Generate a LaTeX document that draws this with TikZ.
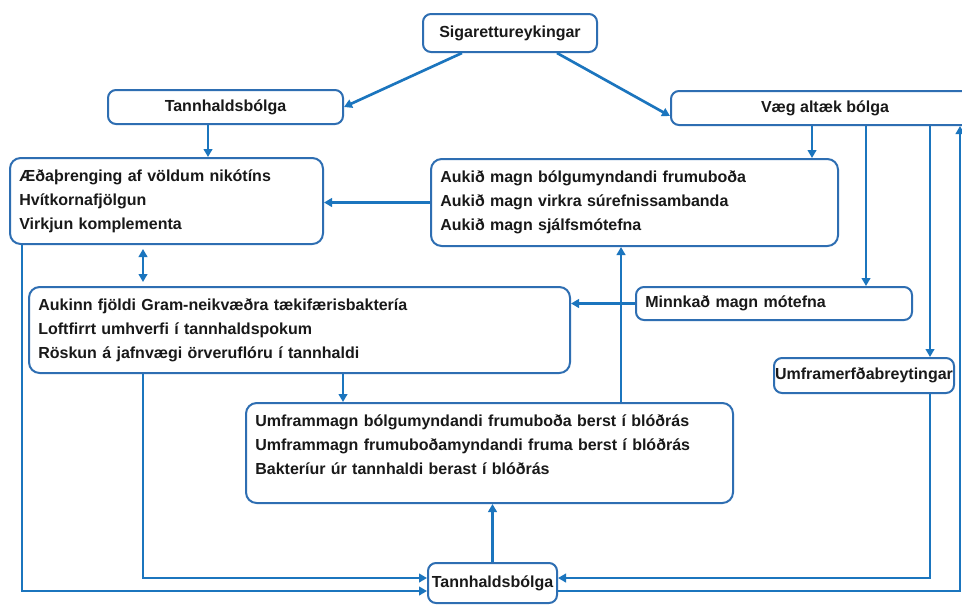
\documentclass[tikz,border=0pt]{standalone}
\usepackage{fontspec}
\setmainfont{Liberation Sans}
\usetikzlibrary{arrows.meta}
\definecolor{boxblue}{RGB}{46,110,178}
\definecolor{linkblue}{RGB}{27,117,190}
\definecolor{inktext}{RGB}{25,25,25}

\begin{document}
\begin{tikzpicture}[x=0.75pt, y=-0.75pt,
  >={Triangle[length=6pt,width=6.5pt]},
  box/.style={draw=boxblue, line width=1.5pt, rounded corners=6pt, fill=white,
    text=inktext, font=\bfseries\fontsize{12}{18}\selectfont, inner sep=0pt},
  listbox/.style={box, align=left, inner xsep=7pt, rounded corners=8pt},
  link/.style={draw=linkblue, line width=2pt, ->}]
\useasboundingbox[fill=white] (0,0) rectangle (962,604);

\node[box, minimum width=130.5pt, minimum height=28.5pt] (sig) at (510,33) {Sigarettureykingar};
\node[box, minimum width=176.25pt, minimum height=25.5pt] (tannTop) at (225.5,107) {Tannhaldsbólga};
\node[box, minimum width=231pt, minimum height=25.5pt] (vaeg) at (825,108) {Væg altæk bólga};
\node[listbox, text width=220.75pt, minimum height=64.5pt] (aeda) at (166.5,201)
  {Æðaþrenging af völdum nikótíns\\Hvítkornafjölgun\\Virkjun komplementa};
\node[listbox, text width=291.25pt, minimum height=65.25pt] (aukid) at (634.5,202.5)
  {Aukið magn bólgumyndandi frumuboða\\Aukið magn virkra súrefnissambanda\\Aukið magn sjálfsmótefna};
\node[listbox, text width=391.75pt, minimum height=64.5pt] (aukinn) at (299.5,330)
  {Aukinn fjöldi Gram-neikvæðra tækifærisbaktería\\Loftfirrt umhverfi í tannhaldspokum\\Röskun á jafnvægi örveruflóru í tannhaldi};
\node[listbox, text width=193pt, minimum height=24.75pt, rounded corners=6pt] (minnk) at (774,303.5) {Minnkað magn mótefna};
\node[box, minimum width=135pt, minimum height=26.25pt] (umfr) at (864,375.5) {Umframerfðabreytingar};
\node[listbox, text width=351.25pt, minimum height=75pt, text depth=48pt] (umfm) at (489.5,453)
  {Umframmagn bólgumyndandi frumuboða berst í blóðrás\\Umframmagn frumuboðamyndandi fruma berst í blóðrás\\Bakteríur úr tannhaldi berast í blóðrás};
\node[box, minimum width=96.75pt, minimum height=30pt] (tannBot) at (492.5,583) {Tannhaldsbólga};

% arrows
\draw[link] (sig.south -| 462,0) -- (tannTop.east);
\draw[link] (sig.south -| 557,0) -- ([yshift=-6pt]vaeg.west);
\draw[link] (tannTop.south -| 208,0) -- (aeda.north -| 208,0);
\draw[link] (aukid.west) -- (aukid.west -| aeda.east);
\draw[link, <->, shorten <=3pt, shorten >=3pt] (aeda.south -| 143,0) -- (aukinn.north -| 143,0);
\draw[link] (vaeg.south -| 812,0) -- (aukid.north -| 812,0);
\draw[link] (vaeg.south -| 866,0) -- (minnk.north -| 866,0);
\draw[link] (vaeg.south -| 930,0) -- (umfr.north -| 930,0);
\draw[link] (minnk.west) -- (minnk.west -| aukinn.east);
\draw[link] (umfm.north -| 621,0) -- (aukid.south -| 621,0);
\draw[link] (aukinn.south -| 343,0) -- (umfm.north -| 343,0);
\draw[link] (aukinn.south -| 143,0) |- ([yshift=3.75pt]tannBot.west);
\draw[link] (aeda.south -| 22,0) |- ([yshift=-6pt]tannBot.west);
\draw[link] (tannBot.north) -- (umfm.south -| tannBot.north);
\draw[link] (umfr.south -| 930,0) |- ([yshift=3.75pt]tannBot.east);
\draw[link] ([yshift=-6pt]tannBot.east) -| (vaeg.south -| 960,0);
\end{tikzpicture}
\end{document}
